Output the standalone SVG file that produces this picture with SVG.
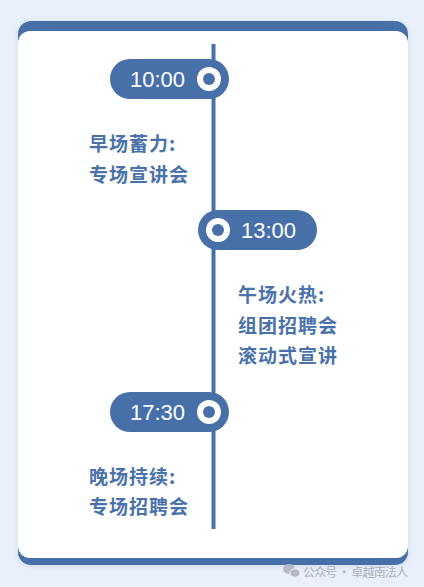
<svg xmlns="http://www.w3.org/2000/svg" width="424" height="587" viewBox="0 0 424 587">
  <defs>
    <filter id="shadow" x="-10%" y="-10%" width="120%" height="120%">
      <feDropShadow dx="0" dy="1" stdDeviation="3" flood-color="#9fb3d1" flood-opacity="0.35"/>
    </filter>
    <style>
      .pill { fill: #4770a9; }
      .time { font-family: "Liberation Sans", Arial, sans-serif; font-size: 22px; fill: #ffffff; }
      .label { font-family: "Noto Sans CJK SC", "Noto Sans", sans-serif; font-size: 19px; font-weight: bold; fill: #4a72aa; letter-spacing: 1px; }
      .ring { fill: #ffffff; }
      .dot { fill: #4770a9; }
      .wm { font-family: "Noto Sans CJK SC", "Noto Sans", sans-serif; font-size: 12px; fill: #aab0b9; }
    </style>
  </defs>
  <rect x="0" y="0" width="424" height="587" fill="#e9f0fb"/>
  <g id="card">
    <rect x="18" y="21" width="390" height="544" rx="13" fill="#4770a9" filter="url(#shadow)"/>
    <rect x="18" y="31" width="390" height="527" rx="12" fill="#ffffff"/>
  </g>
  <g id="connectors">
    <rect x="211.5" y="44" width="4" height="485" fill="#4770a9"/>
  </g>
  <g id="node-1000">
    <rect class="pill" x="110" y="59" width="119" height="40" rx="20"/>
    <text class="time" x="130" y="87">10:00</text>
    <circle class="ring" cx="209" cy="79" r="12"/>
    <circle class="dot" cx="209" cy="79" r="6"/>
  </g>
  <g id="text-morning">
    <text class="label" x="89" y="151">早场蓄力:</text>
    <text class="label" x="89" y="182">专场宣讲会</text>
  </g>
  <g id="node-1300">
    <rect class="pill" x="198" y="210" width="119" height="40" rx="20"/>
    <text class="time" x="241" y="238">13:00</text>
    <circle class="ring" cx="218" cy="230" r="12"/>
    <circle class="dot" cx="218" cy="230" r="6"/>
  </g>
  <g id="text-noon">
    <text class="label" x="238" y="302">午场火热:</text>
    <text class="label" x="238" y="333">组团招聘会</text>
    <text class="label" x="238" y="363">滚动式宣讲</text>
  </g>
  <g id="node-1730">
    <rect class="pill" x="110" y="392" width="119" height="40" rx="20"/>
    <text class="time" x="130" y="420">17:30</text>
    <circle class="ring" cx="209" cy="412" r="12"/>
    <circle class="dot" cx="209" cy="412" r="6"/>
  </g>
  <g id="text-evening">
    <text class="label" x="89" y="484">晚场持续:</text>
    <text class="label" x="89" y="514">专场招聘会</text>
  </g>
  <g id="watermark">
    <ellipse cx="289" cy="569" rx="6" ry="5" fill="#b5bac2"/>
    <ellipse cx="295" cy="573" rx="5" ry="4.2" fill="#b5bac2" stroke="#e9f0fb" stroke-width="1"/>
    <text class="wm" x="303" y="577" textLength="105" lengthAdjust="spacing">公众号 · 卓越南法人</text>
  </g>
</svg>
